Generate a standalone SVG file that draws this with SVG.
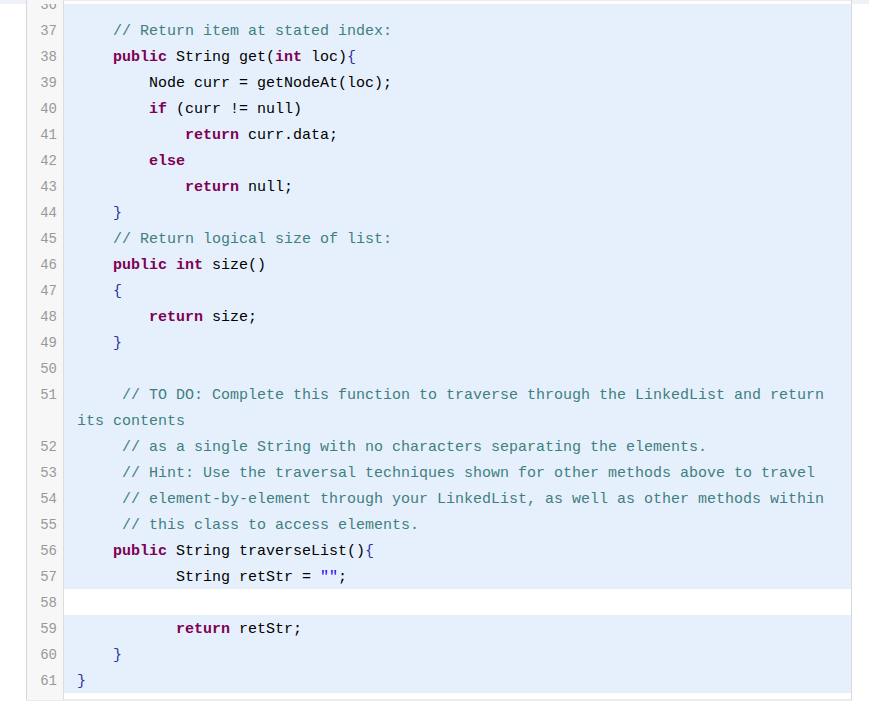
<svg xmlns="http://www.w3.org/2000/svg" width="869" height="719" viewBox="0 0 869 719">
<style>
text{font-family:"Liberation Mono",monospace;font-size:15px;fill:#000;white-space:pre}
.n{fill:#999;text-anchor:end;font-size:14px}
.c{fill:#3f7f7f}
.k{fill:#7f0055;font-weight:bold}
.s{fill:#2a00ff}
.b{fill:#3030a0}
</style>
<rect width="869" height="719" fill="#fff"/>
<rect x="0" y="0" width="869" height="4" fill="#eef2f8"/>
<g id="frame">
<rect x="26.5" y="0" width="825" height="700" fill="#fff" stroke="#d8d8d8"/>
<rect x="27" y="0" width="36" height="700" fill="#f7f7f7"/>
<line x1="63.5" y1="0" x2="63.5" y2="700" stroke="#ddd"/>
<rect x="64" y="4" width="787" height="585" fill="#e6f0fc"/>
<rect x="64" y="615" width="787" height="78" fill="#e6f0fc"/>
</g>
<defs><clipPath id="cl"><rect x="0" y="4" width="869" height="715"/></clipPath></defs>
<g id="lines" clip-path="url(#cl)">
<text class="n" x="57" y="9">36</text>
<text class="n" x="57" y="35">37</text>
<text class="n" x="57" y="61">38</text>
<text class="n" x="57" y="87">39</text>
<text class="n" x="57" y="113">40</text>
<text class="n" x="57" y="139">41</text>
<text class="n" x="57" y="165">42</text>
<text class="n" x="57" y="191">43</text>
<text class="n" x="57" y="217">44</text>
<text class="n" x="57" y="243">45</text>
<text class="n" x="57" y="269">46</text>
<text class="n" x="57" y="295">47</text>
<text class="n" x="57" y="321">48</text>
<text class="n" x="57" y="347">49</text>
<text class="n" x="57" y="373">50</text>
<text class="n" x="57" y="399">51</text>
<text class="n" x="57" y="451">52</text>
<text class="n" x="57" y="477">53</text>
<text class="n" x="57" y="503">54</text>
<text class="n" x="57" y="529">55</text>
<text class="n" x="57" y="555">56</text>
<text class="n" x="57" y="581">57</text>
<text class="n" x="57" y="607">58</text>
<text class="n" x="57" y="633">59</text>
<text class="n" x="57" y="659">60</text>
<text class="n" x="57" y="685">61</text>
</g>
<g id="code">
<text x="113" y="35" class="c">// Return item at stated index:</text>
<text x="113" y="61"><tspan class="k">public</tspan> String get(<tspan class="k">int</tspan> loc)<tspan class="b">{</tspan></text>
<text x="149" y="87">Node curr = getNodeAt(loc);</text>
<text x="149" y="113"><tspan class="k">if</tspan> (curr != null)</text>
<text x="185" y="139"><tspan class="k">return</tspan> curr.data;</text>
<text x="149" y="165" class="k">else</text>
<text x="185" y="191"><tspan class="k">return</tspan> null;</text>
<text x="113" y="217" class="b">}</text>
<text x="113" y="243" class="c">// Return logical size of list:</text>
<text x="113" y="269"><tspan class="k">public int</tspan> size()</text>
<text x="113" y="295" class="b">{</text>
<text x="149" y="321"><tspan class="k">return</tspan> size;</text>
<text x="113" y="347" class="b">}</text>
<text x="122" y="399" class="c" textLength="702" lengthAdjust="spacing">// TO DO: Complete this function to traverse through the LinkedList and return</text>
<text x="77" y="425" class="c">its contents</text>
<text x="122" y="451" class="c">// as a single String with no characters separating the elements.</text>
<text x="122" y="477" class="c">// Hint: Use the traversal techniques shown for other methods above to travel</text>
<text x="122" y="503" class="c">// element-by-element through your LinkedList, as well as other methods within</text>
<text x="122" y="529" class="c">// this class to access elements.</text>
<text x="113" y="555"><tspan class="k">public</tspan> String traverseList()<tspan class="b">{</tspan></text>
<text x="176" y="581">String retStr = <tspan class="s">""</tspan>;</text>
<text x="176" y="633"><tspan class="k">return</tspan> retStr;</text>
<text x="113" y="659" class="b">}</text>
<text x="77" y="685" class="b">}</text>
</g>
</svg>
